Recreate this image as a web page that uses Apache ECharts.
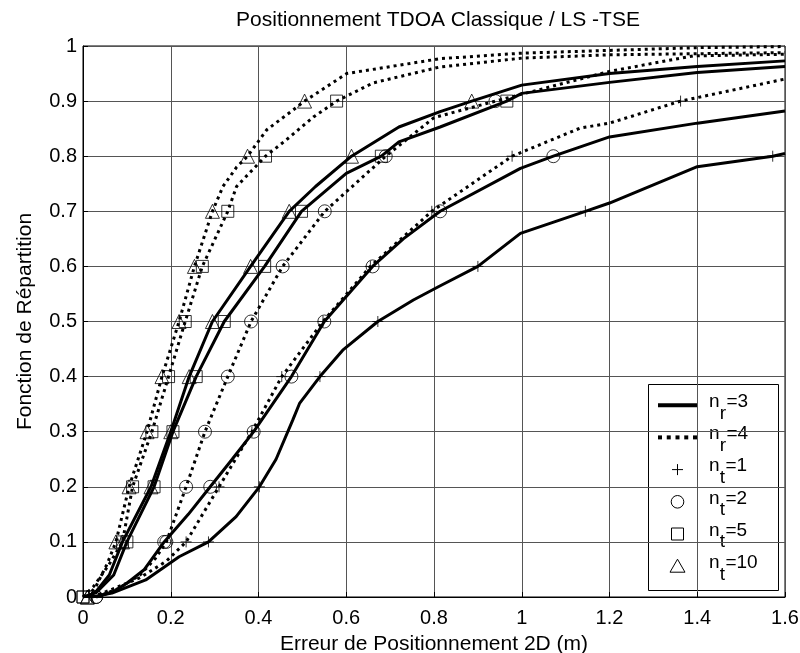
<!DOCTYPE html>
<html>
<head>
<meta charset="utf-8">
<script src="https://cdn.jsdelivr.net/npm/echarts@6/dist/echarts.min.js"></script>
<style>
html, body { margin: 0; padding: 0; background: #fff; }
#main { width: 800px; height: 653px; }
</style>
</head>
<body>
<div id="main"></div>
<script>
// CDF curves, [erreur (m), F]
var nr3nt1 = [[0.02,0],[0.066,0.007],[0.143,0.031],[0.219,0.073],[0.286,0.1],[0.349,0.146],[0.402,0.2],[0.44,0.25],[0.478,0.321],[0.494,0.352],[0.54,0.4],[0.592,0.448],[0.672,0.5],[0.753,0.539],[0.81,0.563],[0.9,0.6],[0.997,0.66],[1.145,0.7],[1.2,0.715],[1.4,0.781],[1.572,0.8],[1.6,0.805]];
var nr3nt2 = [[0.03,0],[0.07,0.01],[0.1,0.025],[0.14,0.05],[0.185,0.1],[0.24,0.15],[0.29,0.2],[0.34,0.25],[0.389,0.3],[0.475,0.4],[0.55,0.5],[0.66,0.6],[0.73,0.65],[0.814,0.7],[0.997,0.778],[1.072,0.8],[1.2,0.835],[1.4,0.86],[1.6,0.882]];
var nr3nt5 = [[0,0],[0.03,0.008],[0.07,0.04],[0.1,0.1],[0.162,0.2],[0.205,0.3],[0.258,0.4],[0.322,0.5],[0.414,0.6],[0.498,0.7],[0.6,0.769],[0.68,0.8],[0.72,0.826],[0.814,0.853],[0.966,0.9],[1.0,0.914],[1.2,0.934],[1.4,0.952],[1.6,0.963]];
var nr3nt10 = [[0.01,0],[0.03,0.01],[0.06,0.04],[0.09,0.1],[0.155,0.2],[0.2,0.3],[0.242,0.4],[0.295,0.5],[0.382,0.6],[0.47,0.7],[0.53,0.745],[0.612,0.8],[0.72,0.853],[0.814,0.881],[0.886,0.9],[1.0,0.929],[1.2,0.95],[1.4,0.963],[1.6,0.973]];
var nr4nt1 = [[0.02,0],[0.06,0.012],[0.13,0.035],[0.19,0.065],[0.235,0.1],[0.31,0.2],[0.385,0.3],[0.453,0.4],[0.547,0.5],[0.655,0.6],[0.795,0.7],[0.978,0.8],[1.133,0.851],[1.2,0.86],[1.362,0.9],[1.6,0.94]];
var nr4nt2 = [[0.03,0],[0.08,0.015],[0.13,0.04],[0.165,0.07],[0.19,0.1],[0.235,0.2],[0.278,0.3],[0.33,0.4],[0.383,0.5],[0.455,0.6],[0.551,0.7],[0.69,0.8],[0.8,0.87],[0.94,0.9],[1.2,0.954],[1.39,0.982],[1.6,0.985]];
var nr4nt5 = [[0,0],[0.025,0.02],[0.06,0.06],[0.09,0.1],[0.113,0.2],[0.157,0.3],[0.195,0.4],[0.233,0.5],[0.272,0.6],[0.33,0.7],[0.35,0.745],[0.416,0.8],[0.464,0.83],[0.525,0.871],[0.578,0.9],[0.661,0.933],[0.814,0.962],[1.0,0.978],[1.2,0.984],[1.4,0.986],[1.6,0.988]];
var nr4nt10 = [[0.01,0],[0.03,0.02],[0.055,0.06],[0.075,0.1],[0.105,0.2],[0.146,0.3],[0.18,0.4],[0.219,0.5],[0.254,0.6],[0.295,0.7],[0.319,0.745],[0.35,0.78],[0.375,0.8],[0.419,0.848],[0.479,0.884],[0.505,0.9],[0.601,0.95],[0.814,0.977],[1.0,0.987],[1.2,0.992],[1.4,0.997],[1.6,0.999]];

// legend rows: [icon kind, subscript, value]
var legendRows = [
	['solid', 'r', '=3'],
	['dotted', 'r', '=4'],
	['plus', 't', '=1'],
	['circle', 't', '=2'],
	['rect', 't', '=5'],
	['triangle', 't', '=10']
];

var FONT = 'Liberation Sans, Arial, sans-serif';
var plusPath = 'path://M5,0V10M0,5H10';
var markSymbol = { plus : plusPath, circle : 'circle', rect : 'rect', triangle : 'triangle' };
var markSize = { plus : 11, circle : 13, rect : 12, triangle : 14 };

var curves = [
	{ data : nr3nt1, dotted : false, mark : 'plus' },
	{ data : nr3nt2, dotted : false, mark : 'circle' },
	{ data : nr3nt5, dotted : false, mark : 'rect' },
	{ data : nr3nt10, dotted : false, mark : 'triangle' },
	{ data : nr4nt1, dotted : true, mark : 'plus' },
	{ data : nr4nt2, dotted : true, mark : 'circle' },
	{ data : nr4nt5, dotted : true, mark : 'rect' },
	{ data : nr4nt10, dotted : true, mark : 'triangle' }
];

// markers sit on the points where F is a multiple of 0.1
function onLevel(p) {
	var k = p[1] * 10;
	return Math.abs(k - Math.round(k)) < 1e-6;
}

var hollow = { color : 'rgba(0,0,0,0)', borderColor : '#000', borderWidth : 1 };
var series = [];
curves.forEach(function(c) {
	series.push({
		type : 'line',
		data : c.data,
		showSymbol : false,
		symbol : 'none',
		silent : true,
		z : 3,
		lineStyle : { color : '#000', width : 3, type : c.dotted ? [3, 4] : 'solid', cap : 'butt' }
	});
	series.push({
		type : 'scatter',
		data : c.data.filter(onLevel),
		symbol : markSymbol[c.mark],
		symbolSize : markSize[c.mark],
		clip : false,
		silent : true,
		z : 4,
		itemStyle : hollow
	});
});

// legend box drawn by hand (matlab style, with subscripts)
function legendGraphics() {
	var els = [];
	var boxX = 648, boxY = 384, boxW = 130, boxH = 206;
	var iconX = 658, iconW = 39, cx = iconX + iconW / 2;
	var textX = 709;
	var stroke = { fill : 'none', stroke : '#000', lineWidth : 1 };
	els.push({ type : 'rect', shape : { x : boxX + 0.5, y : boxY + 0.5, width : boxW, height : boxH },
		style : { fill : '#fff', stroke : '#000', lineWidth : 1 } });
	legendRows.forEach(function(row, i) {
		var ty = 401.7 + 32.2 * i;
		var iy = ty + 3.5;
		var kind = row[0];
		if (kind === 'solid') {
			els.push({ type : 'rect', shape : { x : iconX, y : iy - 2, width : iconW, height : 4 }, style : { fill : '#000' } });
		} else if (kind === 'dotted') {
			for (var k = 0; k < 5; k++) {
				els.push({ type : 'rect', shape : { x : iconX + k * 8.75, y : iy - 2, width : 4, height : 4 }, style : { fill : '#000' } });
			}
		} else if (kind === 'plus') {
			els.push({ type : 'line', shape : { x1 : cx - 5.5, y1 : iy, x2 : cx + 5.5, y2 : iy }, style : stroke });
			els.push({ type : 'line', shape : { x1 : cx, y1 : iy - 5.5, x2 : cx, y2 : iy + 5.5 }, style : stroke });
		} else if (kind === 'circle') {
			els.push({ type : 'circle', shape : { cx : cx, cy : iy, r : 6.3 }, style : stroke });
		} else if (kind === 'rect') {
			els.push({ type : 'rect', shape : { x : cx - 6, y : iy - 6, width : 12, height : 12 }, style : stroke });
		} else {
			els.push({ type : 'polygon', shape : { points : [[cx, iy - 7], [cx + 7.5, iy + 6], [cx - 7.5, iy + 6]] }, style : stroke });
		}
		var subW = row[1] === 'r' ? 6.6 : 5.6;
		els.push({ type : 'text', style : { text : 'n', x : textX, y : ty, font : '19px ' + FONT, fill : '#000', textVerticalAlign : 'middle' } });
		els.push({ type : 'text', style : { text : row[1], x : textX + 10.8, y : ty + 11.6, font : '19px ' + FONT, fill : '#000', textVerticalAlign : 'middle' } });
		els.push({ type : 'text', style : { text : row[2], x : textX + 10.8 + subW, y : ty, font : '19px ' + FONT, fill : '#000', textVerticalAlign : 'middle' } });
	});
	return [{ type : 'group', z : 100, silent : true, children : els }];
}

var option = {
	animation : false,
	backgroundColor : '#fff',
	title : {
		text : 'Positionnement TDOA Classique / LS -TSE',
		left : 433,
		textAlign : 'center',
		top : 5,
		textStyle : { fontFamily : FONT, fontSize : 21, fontWeight : 'normal', color : '#000' }
	},
	grid : {
		left : 83,
		right : 15,
		top : 46,
		bottom : 56,
		outerBoundsMode : 'none',
		containLabel : false,
		show : true,
		borderColor : '#000',
		borderWidth : 1
	},
	xAxis : {
		type : 'value',
		min : 0,
		max : 1.6,
		interval : 0.2,
		name : 'Erreur de Positionnement 2D (m)',
		nameLocation : 'middle',
		nameGap : 37,
		nameTextStyle : { fontFamily : FONT, fontSize : 21, color : '#000' },
		axisLine : { lineStyle : { color : '#000', width : 1 } },
		axisTick : { inside : true, length : 5, lineStyle : { color : '#000' } },
		axisLabel : { fontFamily : FONT, fontSize : 20, color : '#000', margin : 11 },
		splitLine : { show : true, lineStyle : { color : '#555', width : 1 } }
	},
	yAxis : {
		type : 'value',
		min : 0,
		max : 1,
		interval : 0.1,
		name : 'Fonction de Répartition',
		nameLocation : 'middle',
		nameGap : 47,
		nameTextStyle : { fontFamily : FONT, fontSize : 21, color : '#000' },
		axisLine : { show : true, lineStyle : { color : '#000', width : 1 } },
		axisTick : { show : true, inside : true, length : 5, lineStyle : { color : '#000' } },
		axisLabel : { fontFamily : FONT, fontSize : 20, color : '#000', margin : 6 },
		splitLine : { show : true, lineStyle : { color : '#555', width : 1 } }
	},
	graphic : legendGraphics(),
	series : series
};

var chart = echarts.init(document.getElementById('main'));
chart.setOption(option);
</script>
</body>
</html>
